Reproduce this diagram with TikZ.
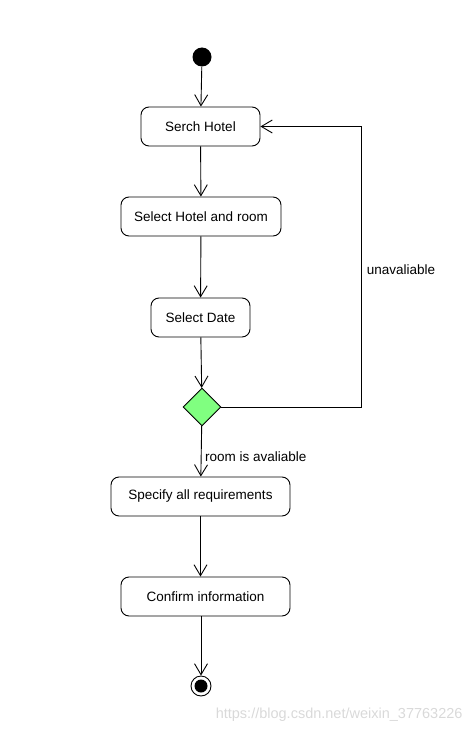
\documentclass[tikz,border=0pt]{standalone}
\usepackage{fontspec}
\setmainfont{Liberation Sans}
\usetikzlibrary{shapes.geometric,arrows.meta}
\definecolor{decgreen}{RGB}{128,255,128}
\begin{document}
\begin{tikzpicture}[x=1pt,y=-1pt,font=\fontsize{13.5}{15}\selectfont]

			\tikzstyle{activity}=[fill=white,draw=black,rounded corners=8pt,
				line width=0.9pt,minimum height=39pt,inner xsep=10pt,
				align=center]
			\tikzstyle{startstate}=[circle,fill=black,
				minimum size=19pt,inner sep=0pt]
			\tikzstyle{endstate}=[circle,draw=black,line width=0.9pt,
				minimum size=20pt,inner sep=0pt]
			\tikzstyle{decision}=[diamond,fill=decgreen,draw=black,line width=0.9pt,
				minimum size=38pt,inner sep=0pt,aspect=1]
			\tikzstyle{flow}=[draw=black,line width=0.9pt,
				-{Straight Barb[length=11pt,width=13pt,line width=0.9pt]}]

			\useasboundingbox (0,0) rectangle (474,733);

			\node[startstate]	(start)	at (202,57)	{};
			\node[activity,minimum width=119pt]	(serch)	at (200.5,126.5)	{Serch Hotel};
			\node[activity,minimum width=160pt]	(select)	at (201,216.5)	{Select Hotel and room};
			\node[activity,minimum width=99pt]	(date)	at (200.5,317.5)	{Select Date};
			\node[decision]		(dec)	at (202,407)	{};
			\node[activity,minimum width=179pt]	(spec)	at (200.5,496.5)	{Specify all requirements};
			\node[activity,minimum width=169pt]	(conf)	at (205.5,596.5)	{Confirm information};
			\node[endstate]		(fin)	at (201,686)	{};
			\fill (fin) circle (6.5);
			\coordinate (loop) at (361,407);

			\draw[flow] (start) -- (serch);
			\draw[flow] (serch) -- (select);
			\draw[flow] (select) -- (date);
			\draw[flow] (date) -- (dec);
			\draw[flow] (dec.east) -- (loop) |- node[pos=0.25,anchor=west,xshift=2pt,yshift=-3pt] {unavaliable} (serch.east);
			\draw[flow] (dec) -- node[midway,anchor=west,yshift=-5pt] {room is avaliable} (spec);
			\draw[flow] (spec.south) -- (spec.south |- conf.north);
			\draw[flow] (conf.south -| fin) -- (fin.north);

			\node[text=black!15,font=\fontsize{14.5}{16}\selectfont,anchor=east] (mark) at (466,715) {https://blog.csdn.net/weixin\_37763226};

\end{tikzpicture}
\end{document}
